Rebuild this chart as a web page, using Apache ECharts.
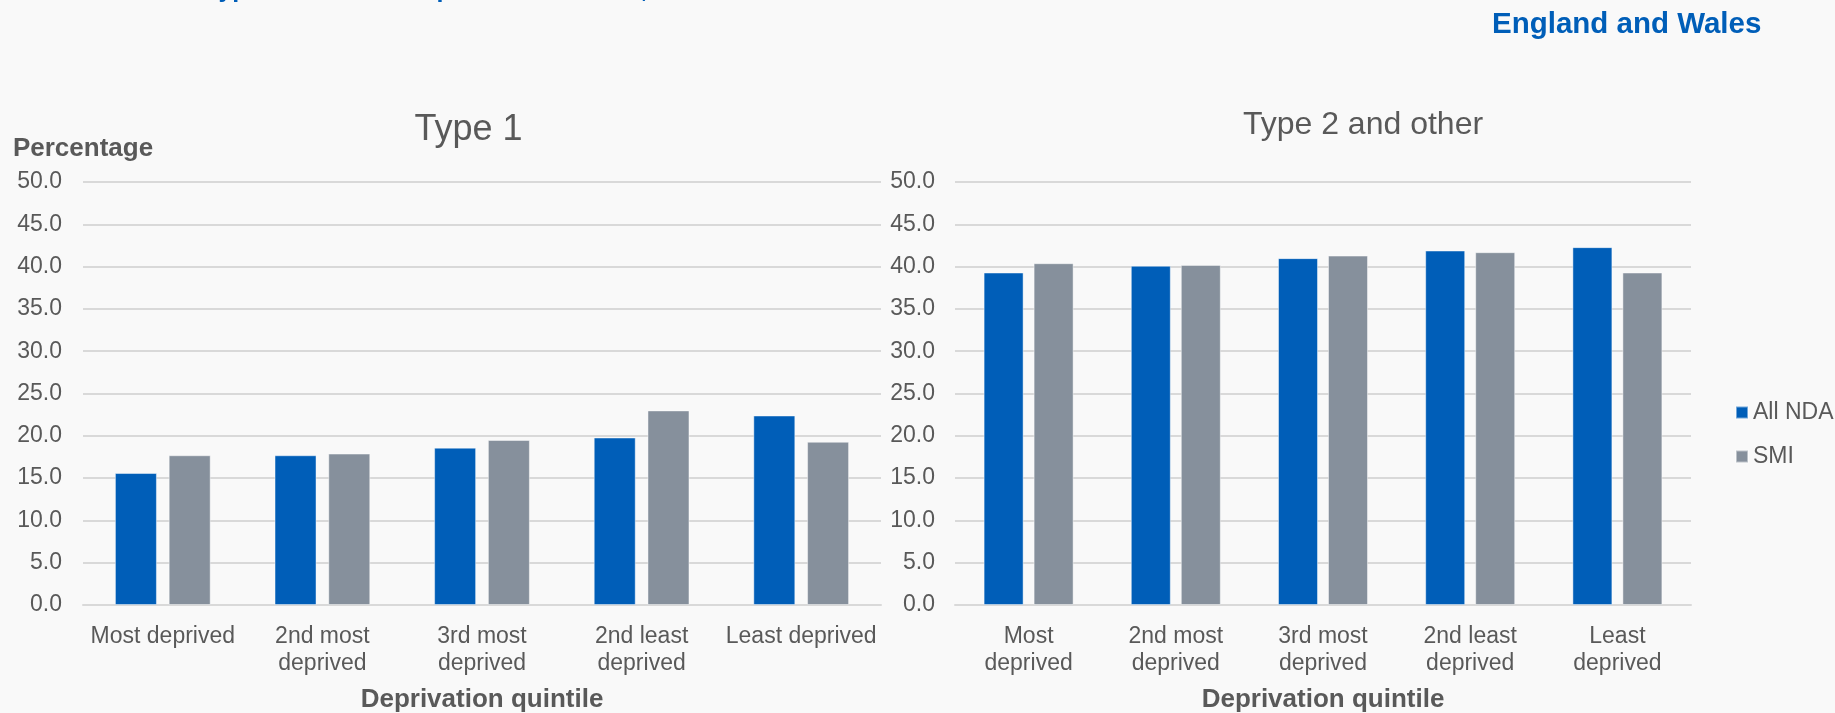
<!DOCTYPE html>
<html>
<head>
<meta charset="utf-8">
<script src="https://cdn.jsdelivr.net/npm/echarts@6/dist/echarts.min.js"></script>
<style>
  html, body { margin: 0; padding: 0; background: #f9f9f9; }
  #chart { width: 1835px; height: 713px; }
</style>
</head>
<body>
<div id="chart"></div>
<script>
// Deprivation quintiles, most to least deprived
const quintilesType1 = ['Most deprived', '2nd most\ndeprived', '3rd most\ndeprived', '2nd least\ndeprived', 'Least deprived'];
const quintilesType2 = ['Most\ndeprived', '2nd most\ndeprived', '3rd most\ndeprived', '2nd least\ndeprived', 'Least\ndeprived'];

// Percentage of people with diabetes, Type 1
const type1AllNDA = [15.6, 17.7, 18.6, 19.8, 22.4];
const type1SMI    = [17.7, 17.9, 19.5, 23.0, 19.3];

// Percentage of people with diabetes, Type 2 and other
const type2AllNDA = [39.3, 40.1, 41.0, 41.9, 42.3];
const type2SMI    = [40.4, 40.2, 41.3, 41.7, 39.3];

const seriesNames = ['All NDA', 'SMI'];
const axisMax = 50;
const axisStep = 5;

const FONT = '"Liberation Sans", Arial, sans-serif';
const TEXT_GREY = '#595959';
const NHS_BLUE = '#005eb8';
const BAR_BLUE = '#005eb8';
const BAR_GREY = '#86909c';
const GRID_GREY = '#d9d9d9';

function yAxisFor(gridIndex, withName) {
  return {
    type: 'value',
    gridIndex: gridIndex,
    min: 0,
    max: axisMax,
    interval: axisStep,
    name: withName ? 'Percentage' : '',
    nameLocation: 'end',
    nameGap: 20,
    nameTextStyle: { fontFamily: FONT, fontSize: 26, fontWeight: 'bold', color: TEXT_GREY },
    axisLine: { show: false },
    axisTick: { show: false },
    axisLabel: {
      margin: gridIndex === 0 ? 21 : 20,
      fontFamily: FONT,
      fontSize: 23,
      color: TEXT_GREY,
      formatter: v => v.toFixed(1)
    },
    splitLine: { lineStyle: { color: GRID_GREY, width: 2 } }
  };
}

function xAxisFor(gridIndex, cats) {
  return {
    type: 'category',
    gridIndex: gridIndex,
    data: cats,
    name: 'Deprivation quintile',
    nameLocation: 'middle',
    nameGap: 82,
    nameTextStyle: { fontFamily: FONT, fontSize: 26, fontWeight: 'bold', color: TEXT_GREY },
    axisLine: { lineStyle: { color: GRID_GREY, width: 2 } },
    axisTick: { show: false },
    axisLabel: {
      interval: 0,
      margin: 18,
      fontFamily: FONT,
      fontSize: 23,
      lineHeight: 27,
      color: TEXT_GREY
    }
  };
}

function barSeries(name, data, gridIndex, color, width, gap) {
  return {
    name: name,
    type: 'bar',
    xAxisIndex: gridIndex,
    yAxisIndex: gridIndex,
    data: data,
    barWidth: width,
    barGap: gap,
    itemStyle: { color: color, borderColor: 'rgba(255,255,255,0.45)', borderWidth: 1 }
  };
}

const chart = echarts.init(document.getElementById('chart'), null, { renderer: 'canvas' });

chart.setOption({
  backgroundColor: '#f9f9f9',
  animation: false,
  textStyle: { fontFamily: FONT },
  graphic: [
    {
      type: 'text', x: 205, y: -10,
      style: { text: 'Type of diabetes in patients with SMI, 2019-20', fill: NHS_BLUE,
               font: 'bold 25px ' + FONT, align: 'left', verticalAlign: 'middle' }
    },
    {
      type: 'text', x: 1492, y: 25,
      style: { text: 'England and Wales', fill: NHS_BLUE,
               font: 'bold 29.5px ' + FONT, align: 'left', verticalAlign: 'middle' }
    },
    {
      type: 'text', x: 468.5, y: 130,
      style: { text: 'Type 1', fill: TEXT_GREY,
               font: '36px ' + FONT, align: 'center', verticalAlign: 'middle' }
    },
    {
      type: 'text', x: 1363, y: 125,
      style: { text: 'Type 2 and other', fill: TEXT_GREY,
               font: '32px ' + FONT, align: 'center', verticalAlign: 'middle' }
    }
  ],
  legend: {
    data: seriesNames,
    orient: 'vertical',
    left: 1730,
    top: 396,
    itemWidth: 12,
    itemHeight: 12,
    itemGap: 21,
    icon: 'rect',
    textStyle: { fontFamily: FONT, fontSize: 23, color: TEXT_GREY }
  },
  grid: [
    { left: 83, right: 954, top: 182, bottom: 108, containLabel: false, outerBoundsMode: 'none' },
    { left: 955, right: 144, top: 182, bottom: 108, containLabel: false, outerBoundsMode: 'none' }
  ],
  xAxis: [xAxisFor(0, quintilesType1), xAxisFor(1, quintilesType2)],
  yAxis: [yAxisFor(0, true), yAxisFor(1, false)],
  series: [
    barSeries(seriesNames[0], type1AllNDA, 0, BAR_BLUE, 42, '28%'),
    barSeries(seriesNames[1], type1SMI, 0, BAR_GREY, 42, '28%'),
    barSeries(seriesNames[0], type2AllNDA, 1, BAR_BLUE, 40, '25%'),
    barSeries(seriesNames[1], type2SMI, 1, BAR_GREY, 40, '25%')
  ]
});
</script>
</body>
</html>
